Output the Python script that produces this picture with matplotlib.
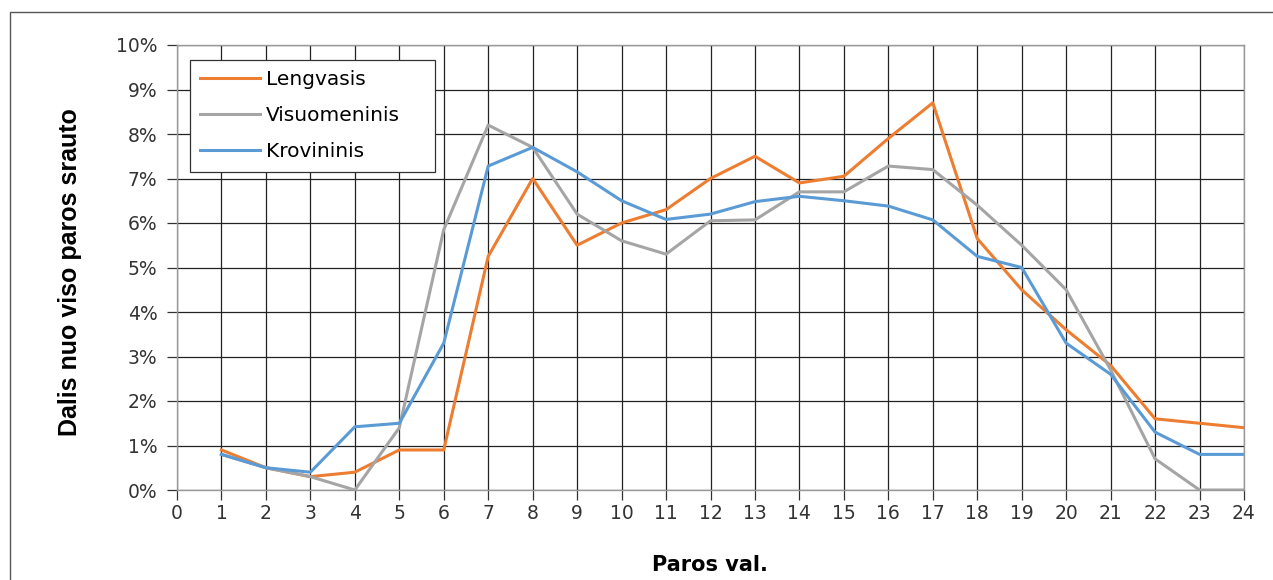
import matplotlib.pyplot as plt
from matplotlib.patches import Rectangle
from matplotlib.ticker import FuncFormatter

plt.rcParams['font.family'] = ['DejaVu Sans']

hours = list(range(1, 25))
lengvasis = [0.9, 0.5, 0.3, 0.4, 0.9, 0.9, 5.25, 7.0, 5.5, 6.0, 6.3, 7.0,
             7.5, 6.9, 7.05, 7.9, 8.7, 5.65, 4.5, 3.6, 2.8, 1.6, 1.5, 1.4]
visuomeninis = [0.8, 0.5, 0.3, 0.0, 1.4, 5.85, 8.2, 7.7, 6.2, 5.6, 5.3, 6.05,
                6.07, 6.7, 6.7, 7.28, 7.2, 6.4, 5.5, 4.5, 2.7, 0.7, 0.0, 0.0]
krovininis = [0.8, 0.5, 0.4, 1.42, 1.5, 3.3, 7.28, 7.7, 7.15, 6.5, 6.08, 6.2,
              6.48, 6.6, 6.5, 6.38, 6.07, 5.25, 5.0, 3.3, 2.6, 1.3, 0.8, 0.8]

series = [("Lengvasis", lengvasis, "#ED7D31"),
          ("Visuomeninis", visuomeninis, "#A5A5A5"),
          ("Krovininis", krovininis, "#5B9BD5")]

fig = plt.figure(figsize=(12.73, 5.8), dpi=100)
ax = fig.add_axes([177 / 1273, 1 - 490 / 580, (1244 - 177) / 1273, (490 - 45) / 580])

for name, vals, col in series:
    ax.plot(hours, vals, color=col, lw=2.2, label=name)

ax.set_xlim(0, 24)
ax.set_ylim(0, 10)
ax.set_xticks(range(0, 25))
ax.set_yticks(range(0, 11))
ax.yaxis.set_major_formatter(FuncFormatter(lambda v, p: f"{int(v)}%"))
ax.grid(True, color='#222222', lw=0.9)
ax.set_axisbelow(True)
for s in ax.spines.values():
    s.set_color('#999999')
    s.set_linewidth(1.0)
ax.tick_params(axis='both', labelsize=13.5, colors='#333333', length=7,
               width=0.9, direction='out')
ax.tick_params(axis='x', pad=3)
ax.tick_params(axis='y', pad=7)

# axis titles, placed where the original has them
ax.set_ylabel("Dalis nuo viso paros srauto", fontsize=18, fontweight='bold',
              family='Liberation Sans')
ax.yaxis.label.set_va('center')
ax.yaxis.set_label_coords(-0.1003, 0.49)
ax.set_xlabel("Paros val.", fontsize=15, fontweight='bold')
ax.xaxis.label.set_va('center')
ax.xaxis.set_label_coords(0.4995, -0.1685)

# legend box stretched to the width of the original one
leg = ax.legend(loc='upper left', bbox_to_anchor=(0.012, 0.966 - 0.3, 0.2296, 0.3),
                mode='expand', fontsize=14.5,
                frameon=True, fancybox=False, edgecolor='#333333',
                handlelength=3.0, handletextpad=0.3, labelspacing=0.85,
                borderpad=0.5, borderaxespad=0)
leg.get_frame().set_linewidth(0.9)
leg.get_frame().set_facecolor('white')
leg.get_frame().set_alpha(1)

fig.patches.append(Rectangle((10 / 1273, -0.2), 1.2, 1.2 - 12 / 580,
                             transform=fig.transFigure, fill=False,
                             edgecolor='#555555', lw=1.0))

fig.savefig("out.png", dpi=100)
